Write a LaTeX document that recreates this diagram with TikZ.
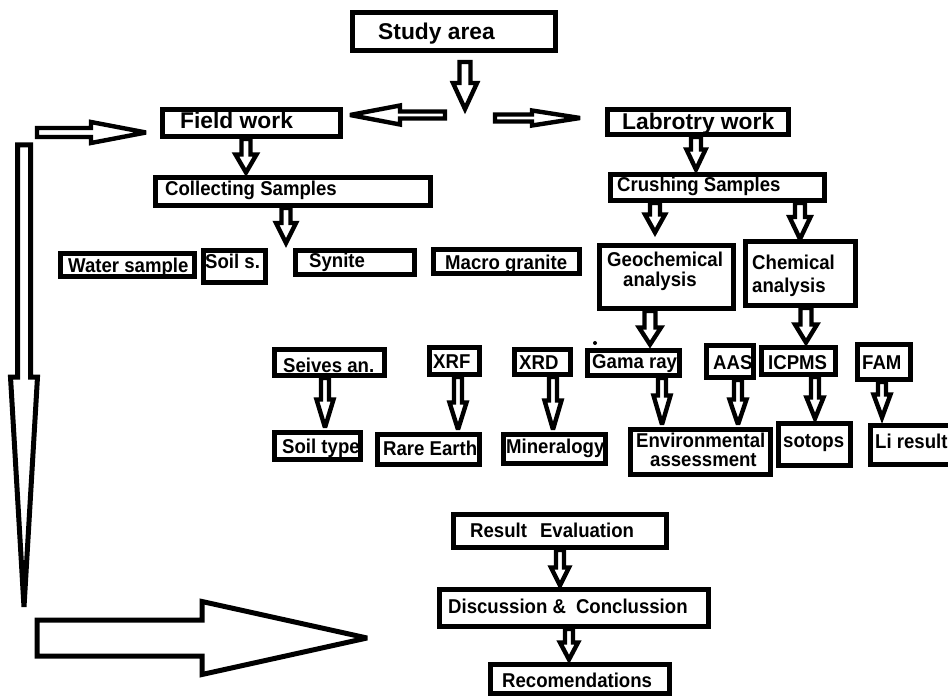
\documentclass[tikz,border=0pt]{standalone}
\usepackage{fontspec}
\setmainfont{Liberation Sans}
\newfontfamily\condfont[FakeStretch=0.93]{Liberation Sans}
\usetikzlibrary{calc}
\pgfdeclarelayer{back}
\pgfdeclarelayer{bg}
\pgfsetlayers{back,bg,main}
\tikzset{
  box/.style={draw=black, line width=5pt, fill=white, rectangle, inner sep=0pt},
  lbl/.style={anchor=base west, inner sep=0pt, font=\condfont\bfseries\fontsize{20}{21}\selectfont, text=black},
  biglbl/.style={lbl, font=\bfseries\fontsize{22.8}{26}\selectfont},
  blk/.style={draw=black, fill=white, line width=4.4pt, line join=miter, miter limit=3},
}
% down block arrow: [style]{x}{from}{to}{shaft half}{head half}{head length}
\newcommand\darr[7][]{\draw[blk,#1] let \p1=(#3), \p2=(#4) in
  ({#2pt-#5pt},\y1) -- ({#2pt-#5pt},{\y2+#7pt}) -- ({#2pt-#6pt},{\y2+#7pt}) -- (#2pt,\y2)
  -- ({#2pt+#6pt},{\y2+#7pt}) -- ({#2pt+#5pt},{\y2+#7pt}) -- ({#2pt+#5pt},\y1) -- cycle;}
% right block arrow: [style]{tail}{tip}{shaft half}{head half}{head length}
\newcommand\rarr[6][]{\draw[blk,#1] let \p1=(#2), \p2=(#3) in
  (\x1,{\y1+#4pt}) -- ({\x2-#6pt},{\y1+#4pt}) -- ({\x2-#6pt},{\y1+#5pt}) -- (\x2,\y2)
  -- ({\x2-#6pt},{\y1-#5pt}) -- ({\x2-#6pt},{\y1-#4pt}) -- (\x1,{\y1-#4pt}) -- cycle;}
% left block arrow
\newcommand\larr[6][]{\draw[blk,#1] let \p1=(#2), \p2=(#3) in
  (\x1,{\y1+#4pt}) -- ({\x2+#6pt},{\y1+#4pt}) -- ({\x2+#6pt},{\y1+#5pt}) -- (\x2,\y2)
  -- ({\x2+#6pt},{\y1-#5pt}) -- ({\x2+#6pt},{\y1-#4pt}) -- (\x1,{\y1-#4pt}) -- cycle;}
\newcommand\bx[5]{\node[box, minimum width=#4pt, minimum height=#5pt] (#1) at (#2,#3) {};}
\begin{document}
\begin{tikzpicture}[x=1pt,y=-1pt]
\begin{pgfonlayer}{back}
\fill[white] (0,0) rectangle (948,698);
\end{pgfonlayer}
\useasboundingbox (0,0) rectangle (948,698);

% boxes
\bx{study}{454}{31.5}{203}{38}
\bx{field}{251.5}{123}{178}{27}
\bx{lab}{698}{122}{181}{25}
\bx{collect}{293}{191.5}{275}{28}
\bx{crush}{717.5}{187.5}{214}{26}
\bx{water}{127.5}{265}{134}{23}
\bx{soils}{234.5}{266.5}{62}{32}
\bx{synite}{355}{262.5}{119}{24}
\bx{macro}{506.5}{261.5}{146}{24}
\bx{geo}{666.5}{277}{134}{63}
\bx{chem}{800.5}{273.5}{110}{64}
\bx{seives}{329.5}{362.5}{110}{26}
\bx{xrf}{454.5}{361}{50}{27}
\bx{xrd}{542.5}{362}{56}{25}
\bx{gama}{633.5}{363}{92}{25}
\bx{aas}{730}{361.5}{47}{32}
\bx{icpms}{798.5}{361}{74}{27}
\bx{fam}{884}{362}{53}{35}
\bx{soiltype}{317.5}{446}{86}{27}
\bx{rare}{428.5}{449.5}{102}{30}
\bx{mineral}{554.5}{449}{102}{29}
\bx{env}{700.5}{452}{140}{45}
\bx{sotops}{814.5}{444.5}{72}{42}
\bx{li}{911.5}{445}{82}{39}
\bx{result}{560}{531}{213}{33}
\bx{disc}{574}{608}{269}{37}
\bx{rec}{580}{679}{179}{29}

% texts
\node[biglbl] (t-study) at (378,40) {Study area};
\node[biglbl] (t-field) at (180,129) {Field work};
\node[biglbl] (t-lab) at (622,130) {Labrotry work};
\node[lbl] (t-collect) at (165,196) {Collecting Samples};
\node[lbl] (t-crush) at (617,192) {Crushing Samples};
\node[lbl] (t-water) at (68,272) {Water sample};
\node[lbl] (t-soils) at (205,268) {Soil s.};
\node[lbl] (t-synite) at (309,267) {Synite};
\node[lbl] (t-macro) at (445,269) {Macro granite};
\node[lbl] (t-geo1) at (607,266) {Geochemical};
\node[lbl] (t-geo2) at (623,286) {analysis};
\node[lbl] (t-chem1) at (752,269) {Chemical};
\node[lbl] (t-chem2) at (752,292) {analysis};
\node[lbl] (t-seives) at (283,372) {Seives an.};
\node[lbl] (t-xrf) at (433,368) {XRF};
\node[lbl] (t-xrd) at (519,369) {XRD};
\node[lbl] (t-gama) at (592,368) {Gama ray};
\node[lbl] (t-aas) at (713,369) {AAS};
\node[lbl] (t-icpms) at (768,369) {ICPMS};
\node[lbl] (t-fam) at (862,369) {FAM};
\node[lbl] (t-soiltype) at (282,453) {Soil type};
\node[lbl] (t-rare) at (383,455) {Rare Earth};
\node[lbl] (t-mineral) at (506,453) {Mineralogy};
\node[lbl] (t-env1) at (636,447) {Environmental};
\node[lbl] (t-env2) at (650,466) {assessment};
\node[lbl] (t-sotops) at (783,447) {sotops};
\node[lbl] (t-li) at (875,448) {Li result};
\node[lbl] (t-result) at (470,537) {Result\hspace{13pt}Evaluation};
\node[lbl] (t-disc) at (448,613) {Discussion \&\hspace{10pt}Conclussion};
\node[lbl] (t-rec) at (502,687) {Recomendations};

\fill (595,343) circle (2pt);

% free ends
\coordinate (sa) at (465,62);
\coordinate (split) at (465,109);
\coordinate (lt0) at (445,115);
\coordinate (lt1) at (350,115);
\coordinate (rt0) at (495,118);
\coordinate (rt1) at (580,118);
\coordinate (tl0) at (37,132.5);
\coordinate (tl1) at (146,132.5);
\coordinate (v0) at (24,145);
\coordinate (v1) at (24,607);
\coordinate (b0) at (37,638);
\coordinate (b1) at (367,638);
\coordinate (cs) at (286,243);

\begin{pgfonlayer}{bg}
\darr{465}{sa}{split}{5.5}{12}{26}
\darr{246}{field.south}{[yshift=2.5pt]collect.north}{4.5}{10.5}{18}
\darr{286}{collect.south}{cs}{4.5}{10}{20}
\darr{696}{lab.south}{[yshift=2.5pt]crush.north}{5}{9.5}{20}
\darr{655}{crush.south}{[yshift=10.5pt]geo.north}{5}{10}{18}
\darr{800}{crush.south}{chem.north}{5}{10.5}{22}
\darr{650}{geo.south}{[yshift=3.5pt]gama.north}{5.5}{11}{17}
\darr{806}{chem.south}{[yshift=2.5pt]icpms.north}{5.5}{11}{18}
\darr{325}{seives.south}{[yshift=2.5pt]soiltype.north}{4}{8.5}{28}
\darr{458}{xrf.south}{[yshift=2.5pt]rare.north}{4}{8.5}{27}
\darr{553}{xrd.south}{[yshift=2.5pt]mineral.north}{4}{8.5}{29}
\darr{662}{gama.south}{[yshift=2.5pt]env.north}{4}{8.5}{29}
\darr{738}{aas.south}{[yshift=2.5pt]env.north}{4}{8.5}{25}
\darr{815}{icpms.south}{[yshift=2.5pt]sotops.north}{4}{8.5}{21}
\darr{882}{fam.south}{[yshift=5.5pt]li.north}{4}{8.5}{23}
\darr{560}{result.south}{[yshift=1.5pt]disc.north}{4}{9}{18}
\darr{569}{disc.south}{[yshift=2.5pt]rec.north}{4}{9}{17}
\darr[line width=5pt]{24}{v0}{v1}{6.5}{13.5}{230}
\larr{lt0}{lt1}{3.5}{9.5}{50}
\rarr{rt0}{rt1}{3.5}{7.5}{48}
\rarr{tl0}{tl1}{4.5}{10.5}{55}
\rarr[line width=5pt]{b0}{b1}{18}{36.5}{165}
\end{pgfonlayer}
\end{tikzpicture}
\end{document}
